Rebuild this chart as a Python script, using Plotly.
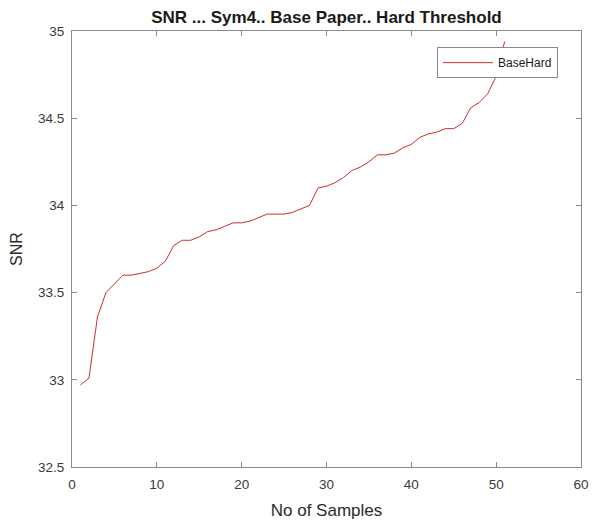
import plotly.graph_objects as go

samples = list(range(1, 52))
snr_base_hard = [
    32.97, 33.01, 33.36, 33.50, 33.55, 33.60, 33.60, 33.61, 33.62, 33.64,
    33.68, 33.77, 33.80, 33.80, 33.82, 33.85, 33.86, 33.88, 33.90, 33.90,
    33.91, 33.93, 33.95, 33.95, 33.95, 33.96, 33.98, 34.00, 34.10, 34.11,
    34.13, 34.16, 34.20, 34.22, 34.25, 34.29, 34.29, 34.30, 34.33, 34.35,
    34.39, 34.41, 34.42, 34.44, 34.44, 34.47, 34.56, 34.59, 34.64, 34.74,
    34.94,
]
x_ticks = [0, 10, 20, 30, 40, 50, 60]
y_ticks = [32.5, 33, 33.5, 34, 34.5, 35]
y_tick_labels = ["32.5", "33", "33.5", "34", "34.5", "35"]

FONT = "Liberation Sans, Arial, sans-serif"

# page body has an 8px default margin; size the figure to fit the 598x525 window
W, H = 590, 517

fig = go.Figure()
fig.add_trace(go.Scatter(
    x=samples, y=snr_base_hard, mode="lines", name="BaseHard",
    line=dict(color="rgb(205,45,45)", width=1),
))

axis_common = dict(
    showgrid=False, zeroline=False, showline=True, linecolor="#8a8a8a",
    linewidth=1, mirror="ticks", ticks="inside", ticklen=5, tickcolor="#8a8a8a",
    automargin=False,
    tickfont=dict(family=FONT, size=13.5, color="#3a3a3a"),
)

fig.update_layout(
    width=W, height=H,
    margin=dict(l=64, r=17, t=23, b=58),
    paper_bgcolor="white", plot_bgcolor="white",
    title=dict(
        text="<b>SNR ... Sym4.. Base Paper.. Hard Threshold</b>",
        x=0.5, xref="paper", y=1 - 9.5 / H, yref="container", yanchor="middle",
        font=dict(family=FONT, size=17, color="#1a1a1a"),
    ),
    xaxis=dict(
        range=[0, 60], tickvals=x_ticks, ticktext=[str(t) for t in x_ticks],
        ticklabelstandoff=5,
        title=dict(text="No of Samples", standoff=12,
                   font=dict(family=FONT, size=17, color="#2a2a2a")),
        **axis_common,
    ),
    yaxis=dict(
        range=[32.5, 35], tickvals=y_ticks, ticktext=y_tick_labels,
        ticklabelstandoff=4,
        title=dict(text="SNR", standoff=12,
                   font=dict(family=FONT, size=16, color="#2a2a2a")),
        **axis_common,
    ),
    showlegend=True,
    legend=dict(
        x=0.717, y=0.963, xanchor="left", yanchor="top",
        bgcolor="white", bordercolor="#8a8a8a", borderwidth=1,
        itemwidth=50,
        font=dict(family=FONT, size=12, color="#1a1a1a"),
    ),
)

fig.write_html("out.html")
